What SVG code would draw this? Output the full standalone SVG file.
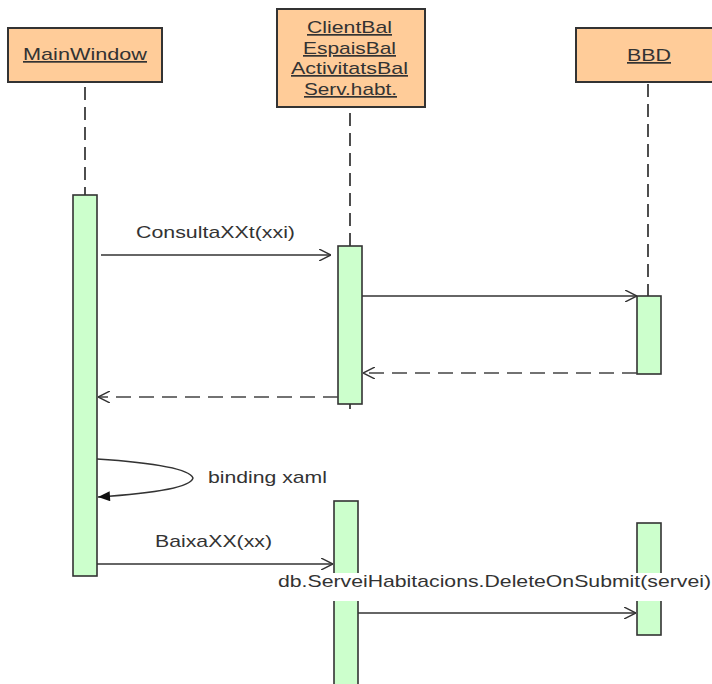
<svg xmlns="http://www.w3.org/2000/svg" width="712" height="684" viewBox="0 0 712 684">
<style>
.obj{fill:#FFCC99;stroke:#333;stroke-width:2}
.act{fill:#CCFFCC;stroke:#333;stroke-width:1.6}
.life{stroke:#222;stroke-width:1.6;stroke-dasharray:13 7;fill:none}
.msg{stroke:#333;stroke-width:1.4;fill:none}
.ret{stroke:#444;stroke-width:1.6;stroke-dasharray:15 8;fill:none}
text{font-family:"Liberation Sans",Arial,sans-serif;font-size:17px;fill:#333}
.u{text-decoration:underline}
</style>
<defs>
<marker id="open" viewBox="0 0 12 12" refX="12" refY="6" markerWidth="12" markerHeight="12" markerUnits="userSpaceOnUse" orient="auto">
<path d="M0,0 L12,6 L0,12" fill="none" stroke="#333" stroke-width="1.4"/>
</marker>
<marker id="fill" viewBox="0 0 12 10" refX="12" refY="5" markerWidth="13" markerHeight="10" markerUnits="userSpaceOnUse" orient="auto">
<path d="M0,0 L12,5 L0,10 Z" fill="#111"/>
</marker>
</defs>

<g id="lifelines">
<line class="life" x1="85" y1="87" x2="85" y2="195"/>
<line class="life" x1="350" y1="113" x2="350" y2="246"/>
<line x1="350" y1="404" x2="350" y2="409" stroke="#222" stroke-width="1.6"/>
<line class="life" x1="648" y1="84" x2="648" y2="296"/>
</g>

<g id="MainWindow">
<rect class="obj" x="8" y="28" width="154" height="54"/>
<text class="u" x="23" y="60" textLength="124" lengthAdjust="spacingAndGlyphs">MainWindow</text>
</g>
<g id="ClientBal">
<rect class="obj" x="277" y="9" width="148" height="98"/>
<text class="u" x="307" y="33" textLength="85" lengthAdjust="spacingAndGlyphs">ClientBal</text>
<text class="u" x="303" y="54" textLength="93" lengthAdjust="spacingAndGlyphs">EspaisBal</text>
<text class="u" x="291" y="74" textLength="117" lengthAdjust="spacingAndGlyphs">ActivitatsBal</text>
<text class="u" x="304" y="95" textLength="93" lengthAdjust="spacingAndGlyphs">Serv.habt.</text>
</g>
<g id="BBD">
<rect class="obj" x="576" y="28" width="150" height="54"/>
<text class="u" x="627" y="61" textLength="44" lengthAdjust="spacingAndGlyphs">BBD</text>
</g>

<g id="activations">
<rect class="act" x="73" y="195" width="24" height="381"/>
<rect class="act" x="338" y="246" width="24" height="158"/>
<rect class="act" x="637" y="296" width="24" height="78"/>
<rect class="act" x="334" y="501" width="24" height="200"/>
<rect class="act" x="637" y="523" width="24" height="112"/>
</g>

<g id="connectors">
<line class="msg" x1="101" y1="255" x2="331" y2="255" marker-end="url(#open)"/>
<line class="msg" x1="362" y1="296" x2="637" y2="296" marker-end="url(#open)"/>
<line class="ret" x1="637" y1="373" x2="363" y2="373" marker-end="url(#open)"/>
<line class="ret" x1="338" y1="397" x2="98" y2="397" marker-end="url(#open)"/>
<path class="msg" d="M97,459 Q188,465 193,478 Q190,491 98,497" marker-end="url(#fill)"/>
<line class="msg" x1="97" y1="564" x2="333" y2="564" marker-end="url(#open)"/>
<line class="msg" x1="358" y1="613" x2="636" y2="613" marker-end="url(#open)"/>
</g>

<g id="labels">
<text x="136" y="238" textLength="159" lengthAdjust="spacingAndGlyphs">ConsultaXXt(xxi)</text>
<text x="208" y="483" textLength="119" lengthAdjust="spacingAndGlyphs">binding xaml</text>
<text x="155" y="547" textLength="117" lengthAdjust="spacingAndGlyphs">BaixaXX(xx)</text>
<rect x="276" y="573" width="436" height="28" fill="#fff"/>
<text x="278" y="587" textLength="433" lengthAdjust="spacingAndGlyphs">db.ServeiHabitacions.DeleteOnSubmit(servei)</text>
</g>
</svg>
